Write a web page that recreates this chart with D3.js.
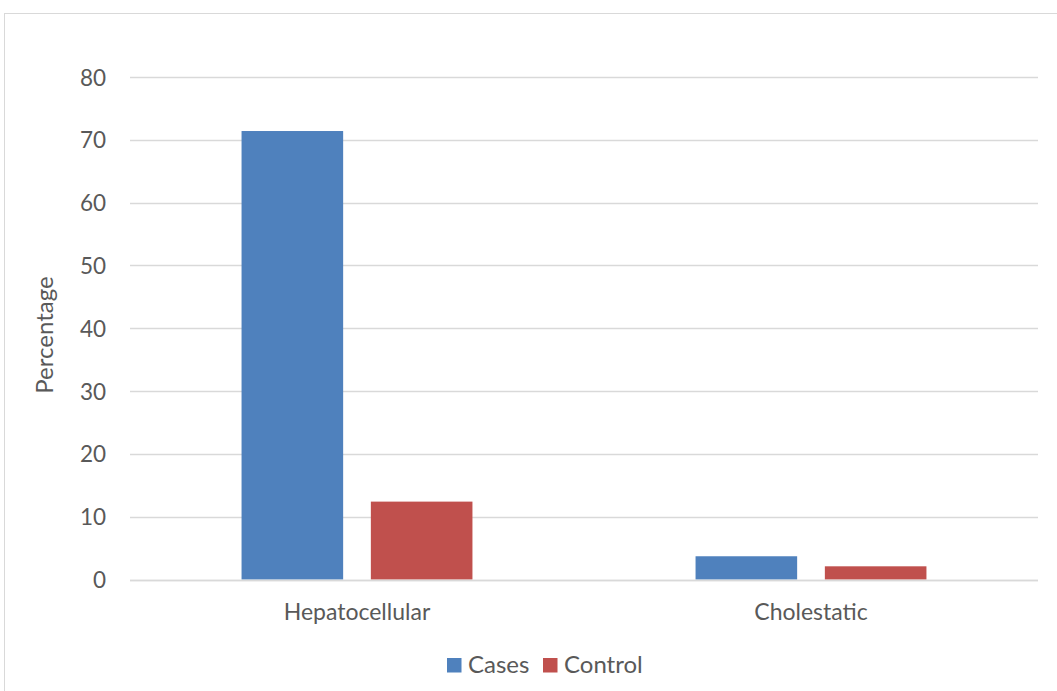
<!DOCTYPE html>
<html>
<head>
<meta charset="utf-8">
<script src="https://cdn.jsdelivr.net/npm/d3@7"></script>
<style>
  html, body { margin: 0; padding: 0; background: #fff; }
  svg { display: block; }
  text { font-family: Lato, "Open Sans", sans-serif; fill: #595959; }
</style>
</head>
<body>
<svg id="chart" width="1057" height="691"></svg>
<script>
// Liver injury pattern by group (%)
const categories = ["Hepatocellular", "Cholestatic"];
const seriesNames = ["Cases", "Control"];
const casesValues = [71.4, 3.7];
const controlValues = [12.4, 2.1];
const yTicks = [0, 10, 20, 30, 40, 50, 60, 70, 80];
const seriesColors = ["#4f81bd", "#c0504d"];

const svg = d3.select("#chart");
const W = 1057, H = 691;

// outer chart frame
svg.append("rect")
  .attr("x", 4.5).attr("y", 13.5)
  .attr("width", W + 10).attr("height", H + 10)
  .attr("fill", "none").attr("stroke", "#d9d9d9").attr("stroke-width", 1);

const plot = { left: 130, right: 1038, top: 77, bottom: 579.5 };

const x0 = d3.scaleBand().domain(categories)
  .range([plot.left, plot.right]).paddingInner(0).paddingOuter(0);
const y = d3.scaleLinear().domain([0, 80]).range([plot.bottom, plot.top]);

// gridlines
svg.append("g").selectAll("line").data(yTicks).join("line")
  .attr("x1", plot.left).attr("x2", plot.right)
  .attr("y1", d => Math.round(y(d)) + 0.5).attr("y2", d => Math.round(y(d)) + 0.5)
  .attr("stroke", "#d9d9d9").attr("stroke-width", 1.3);

// y axis labels
const yAxis = d3.axisLeft(y).tickValues(yTicks).tickSize(0).tickPadding(0);
const gy = svg.append("g").attr("transform", `translate(106,0)`).call(yAxis);
gy.select(".domain").remove();
gy.selectAll("text").attr("font-size", 22.5).attr("fill", "#595959")
  .style("font-family", "Lato, sans-serif").attr("dy", "0.36em");

// bars
const barW = 101.6, barGap = 27.7;
const rows = categories.map((c, i) => ({ cat: c, vals: [casesValues[i], controlValues[i]] }));
const x1 = d3.scaleBand().domain(seriesNames).range([0, barW * 2 + barGap]).paddingInner(barGap / (barW + barGap));
const groupOffset = (x0.bandwidth() - (barW * 2 + barGap)) / 2;

svg.append("g").selectAll("g").data(rows).join("g")
  .attr("transform", d => `translate(${x0(d.cat) + groupOffset},0)`)
  .selectAll("rect")
  .data(d => d.vals.map((v, j) => ({ s: seriesNames[j], v, j })))
  .join("rect")
  .attr("x", d => x1(d.s))
  .attr("width", x1.bandwidth())
  .attr("y", d => y(d.v))
  .attr("height", d => y(0) - y(d.v))
  .attr("fill", d => seriesColors[d.j]);

// baseline over the bars
svg.append("line")
  .attr("x1", plot.left).attr("x2", plot.right)
  .attr("y1", Math.round(y(0)) + 0.5).attr("y2", Math.round(y(0)) + 0.5)
  .attr("stroke", "#d9d9d9").attr("stroke-width", 1.3);

// category labels
svg.append("g").selectAll("text").data(categories).join("text")
  .attr("x", d => x0(d) + x0.bandwidth() / 2)
  .attr("y", 620)
  .attr("text-anchor", "middle")
  .attr("font-size", 23)
  .text(d => d);

// y axis title
svg.append("text")
  .attr("transform", "translate(53,335) rotate(-90)")
  .attr("text-anchor", "middle")
  .attr("font-size", 24)
  .text("Percentage");

// legend
const legend = svg.append("g");
const legendItems = [{ name: "Cases", x: 447 }, { name: "Control", x: 543 }];
legendItems.forEach((it, i) => {
  legend.append("rect").attr("x", it.x).attr("y", 658)
    .attr("width", 14.5).attr("height", 14.5).attr("fill", seriesColors[i]);
  legend.append("text").attr("x", it.x + 21).attr("y", 673)
    .attr("font-size", 24).text(it.name);
});
</script>
</body>
</html>
